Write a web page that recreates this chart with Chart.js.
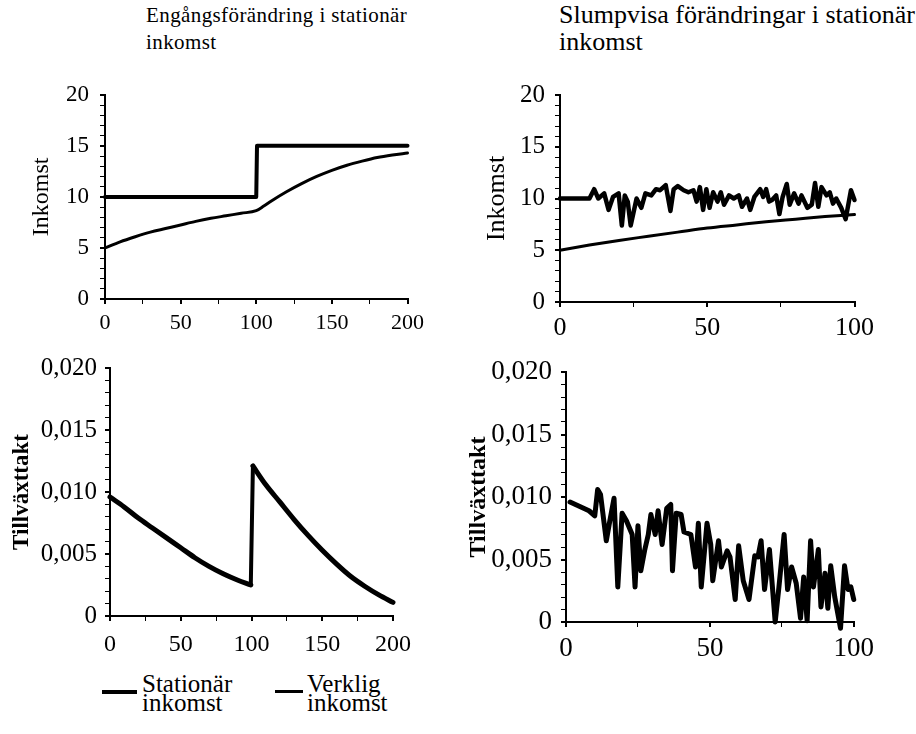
<!DOCTYPE html>
<html>
<head>
<meta charset="utf-8">
<script src="https://cdn.jsdelivr.net/npm/chart.js@4.4.1/dist/chart.umd.min.js"></script>
<style>
body { margin: 0; background: #fff; width: 916px; height: 734px; position: relative; overflow: hidden; font-family: "Liberation Serif", "Times New Roman", serif; color: #000; }
canvas { position: absolute; }
.title { position: absolute; line-height: 27px; white-space: nowrap; }
.leg { position: absolute; font-size: 25px; line-height: 19px; }
.legline { position: absolute; background: #000; }
</style>
</head>
<body>
<div class="title" style="left:146px; top:2px; font-size:21px; letter-spacing:0.4px">Engångsförändring i stationär<br>inkomst</div>
<div class="title" style="left:559px; top:1px; font-size:26px">Slumpvisa förändringar i stationär<br>inkomst</div>

<canvas id="onceIncome" width="430" height="270" style="left:0; top:70px"></canvas>
<canvas id="onceGrowth" width="420" height="315" style="left:0; top:345px"></canvas>
<canvas id="randIncome" width="430" height="270" style="left:450px; top:70px"></canvas>
<canvas id="randGrowth" width="430" height="315" style="left:450px; top:345px"></canvas>

<div class="legline" style="left:102px; top:690px; width:35px; height:4px"></div>
<div class="leg" style="left:142px; top:674px">Stationär<br>inkomst</div>
<div class="legline" style="left:275px; top:690px; width:28px; height:3px"></div>
<div class="leg" style="left:307px; top:674px">Verklig<br>inkomst</div>

<script>
// left column: one-time change in stationary income
var onceStatT = [0, 100, 100.5, 200];
var onceStatY = [10, 10, 15, 15];
var onceRealT = [0, 10, 20, 30, 40, 50, 60, 70, 80, 90, 100, 105, 110, 120, 130, 140, 150, 160, 170, 180, 190, 200];
var onceRealY = [5, 5.6, 6.1, 6.55, 6.9, 7.25, 7.6, 7.9, 8.15, 8.4, 8.65, 9.1, 9.6, 10.5, 11.3, 12.0, 12.6, 13.1, 13.5, 13.85, 14.1, 14.3];
// growth rate, before and after the jump at t = 100
var onceGrowT1 = [0, 10, 20, 30, 40, 50, 60, 70, 80, 90, 99.5];
var onceGrowY1 = [0.0096, 0.0088, 0.0079, 0.0071, 0.0063, 0.0055, 0.0047, 0.0040, 0.0034, 0.0029, 0.0025];
var onceGrowT2 = [101, 110, 120, 130, 140, 150, 160, 170, 180, 190, 200];
var onceGrowY2 = [0.0121, 0.0106, 0.0092, 0.0078, 0.0065, 0.0053, 0.0042, 0.0032, 0.0024, 0.0017, 0.0011];

// right column: random changes in stationary income
var randStatT = [0, 10, 11.6, 13, 15, 16.5, 18, 19.9, 21, 22, 23, 24, 26, 27.6, 29, 31, 32.6, 34, 35.9, 37.5, 38.6, 40, 42, 43.6, 45.3, 46.4, 47.5, 48.6, 49.7, 50.8, 52, 53.5, 54.6, 55.7, 57.4, 59, 60.7, 61.8, 63.5, 64.6, 66, 68, 69, 70, 71, 72, 73.4, 74.5, 75.6, 77, 78, 79.5, 81, 82, 84, 85.5, 86.6, 87.7, 88.8, 90.5, 91.6, 92.7, 93.8, 95.5, 97, 98.8, 100];
var randStatY = [10, 10, 10.9, 10, 10.5, 8.9, 10.15, 10.5, 7.4, 10.3, 9.7, 7.4, 10, 9.1, 10.5, 10.3, 10.9, 10.8, 11.3, 8.8, 10.9, 11.2, 10.8, 10.6, 10.8, 9.7, 11.1, 8.9, 10.9, 9.1, 10.6, 9.7, 10.6, 9.4, 10.3, 10, 10.3, 9.2, 10, 8.9, 10.15, 10.9, 10.15, 10.9, 9.7, 9.85, 10.3, 8.5, 10.15, 11.4, 9.4, 10.5, 9.5, 10.3, 9.1, 9.4, 11.5, 9.2, 11.1, 10.3, 10.6, 9.5, 10, 9.1, 8.0, 10.8, 9.85];
var randRealT = [0, 10, 20, 30, 40, 50, 60, 70, 80, 90, 100];
var randRealY = [5, 5.5, 5.95, 6.35, 6.75, 7.15, 7.45, 7.75, 8.0, 8.25, 8.45];
var randGrowT = [1.4, 8, 10, 11, 12, 14, 15, 16.7, 18, 19.5, 21, 23, 24, 25, 26, 27.3, 28.6, 29.5, 31, 32, 33.4, 35, 36.4, 37, 38.3, 40, 41, 43.4, 45, 46, 47, 49, 50.3, 51, 53, 54, 56, 57, 58.8, 60, 61.6, 63.6, 65.6, 66.7, 67.8, 69, 70.7, 72.7, 74, 75.8, 77, 78.4, 80, 81.5, 82.6, 83.8, 85, 86, 87.7, 88.6, 90, 91, 92, 93.4, 95.4, 96.8, 98, 99, 100];
var randGrowY = [0.0096, 0.0089, 0.0085, 0.0106, 0.0102, 0.0065, 0.0078, 0.0099, 0.0028, 0.0087, 0.0081, 0.0070, 0.0028, 0.0077, 0.0041, 0.0057, 0.0070, 0.0086, 0.0070, 0.0089, 0.0062, 0.0091, 0.0094, 0.0041, 0.0087, 0.0086, 0.0072, 0.0070, 0.0044, 0.0079, 0.0028, 0.0079, 0.0062, 0.0033, 0.0065, 0.0044, 0.0057, 0.0052, 0.0018, 0.0061, 0.0033, 0.0018, 0.0053, 0.0052, 0.0065, 0.0026, 0.0058, 0.0000, 0.0028, 0.0070, 0.0026, 0.0044, 0.0031, 0.0003, 0.0036, 0.0001, 0.0065, 0.0028, 0.0058, 0.0012, 0.0039, 0.0011, 0.0045, 0.0020, -0.0005, 0.0045, 0.0026, 0.0028, 0.0018];

var serif = '"Liberation Serif", "Times New Roman", serif';

function pts(xs, ys) {
    return xs.map(function (x, i) { return { x: x, y: ys[i] }; });
}

function line(xs, ys, width, smooth) {
    var ds = { data: pts(xs, ys), borderColor: '#000', borderWidth: width, pointRadius: 0, tension: 0, clip: false, borderJoinStyle: 'round', borderCapStyle: 'round' };
    if (smooth) ds.cubicInterpolationMode = 'monotone';
    return ds;
}

// vertical jump joining the two parts of the growth curve
function jump(width) {
    var ds = line([onceGrowT1[onceGrowT1.length - 1], onceGrowT2[0]], [onceGrowY1[onceGrowY1.length - 1], onceGrowY2[0]], width);
    ds.borderJoinStyle = 'miter';
    return ds;
}

function incomeLabel(v) {
    return v % 5 === 0 ? String(v) : '';
}

function growthLabel(v) {
    var k = Math.round(v * 1000);
    if (k % 5 !== 0) return '';
    return k === 0 ? '0' : (k / 1000).toFixed(3).replace('.', ',');
}

function panel(id, datasets, o) {
    return new Chart(document.getElementById(id), {
        type: 'line',
        data: { datasets: datasets },
        options: {
            responsive: false,
            animation: false,
            layout: { padding: { top: o.padTop, right: o.padRight, left: 0, bottom: 0 } },
            plugins: { legend: { display: false }, tooltip: { enabled: false } },
            scales: {
                x: {
                    type: 'linear', min: 0, max: o.xMax,
                    afterFit: function (s) { s.height = o.xH; },
                    border: { color: '#000', width: 2 },
                    grid: { drawOnChartArea: false, tickLength: 5, color: '#000',
                        lineWidth: function (c) { return c.tick && c.tick.value % 50 === 0 ? 2 : 1; } },
                    ticks: { stepSize: 25, autoSkip: false, maxRotation: 0, padding: o.xPad, color: '#000',
                        font: { family: serif, size: o.xFont },
                        callback: function (v) { return v % 50 === 0 ? String(v) : ''; } }
                },
                y: {
                    min: 0, max: o.yMax,
                    afterFit: function (s) { s.width = o.yW; },
                    border: { color: '#000', width: 2 },
                    grid: { drawOnChartArea: false, tickLength: 5, color: '#000',
                        lineWidth: function (c) { return c.tick && o.label(c.tick.value) !== '' ? 2 : 1; } },
                    ticks: { stepSize: o.yStep, autoSkip: false, padding: o.yPad, color: '#000',
                        font: { family: serif, size: o.yFont }, callback: o.label },
                    title: { display: true, text: o.yTitle, color: '#000',
                        font: { family: serif, size: o.titleFont, weight: o.titleWeight },
                        padding: { top: o.titlePad, bottom: 0 } }
                }
            }
        }
    });
}

panel('onceIncome', [line(onceStatT, onceStatY, 4), line(onceRealT, onceRealY, 3, true)], {
    padTop: 15, padRight: 17, xH: 41, yW: 105, xMax: 200, yMax: 20, yStep: 1,
    xFont: 22, yFont: 23, yPad: 11, xPad: 6, label: incomeLabel,
    yTitle: 'Inkomst', titleFont: 24, titleWeight: 'normal', titlePad: 27
});

panel('onceGrowth', [line(onceGrowT1, onceGrowY1, 5, true), jump(4), line(onceGrowT2, onceGrowY2, 5, true)], {
    padTop: 17, padRight: 16, xH: 44, yW: 110, xMax: 200, yMax: 0.02, yStep: 0.001,
    xFont: 24, yFont: 25, yPad: 8, xPad: 9, label: growthLabel,
    yTitle: 'Tillväxttakt', titleFont: 23, titleWeight: 'bold', titlePad: 8
});

panel('randIncome', [line(randStatT, randStatY, 4.5), line(randRealT, randRealY, 3, true)], {
    padTop: 15, padRight: 18, xH: 38, yW: 110, xMax: 100, yMax: 20, yStep: 1,
    xFont: 26, yFont: 25, yPad: 10, xPad: 6, label: incomeLabel,
    yTitle: 'Inkomst', titleFont: 26, titleWeight: 'normal', titlePad: 32
});

panel('randGrowth', [line(randGrowT, randGrowY, 5)], {
    padTop: 27, padRight: 21, xH: 38, yW: 116, xMax: 100, yMax: 0.02, yStep: 0.001,
    xFont: 27, yFont: 27, yPad: 9, xPad: 6, label: growthLabel,
    yTitle: 'Tillväxttakt', titleFont: 24, titleWeight: 'bold', titlePad: 14
});
</script>
</body>
</html>
